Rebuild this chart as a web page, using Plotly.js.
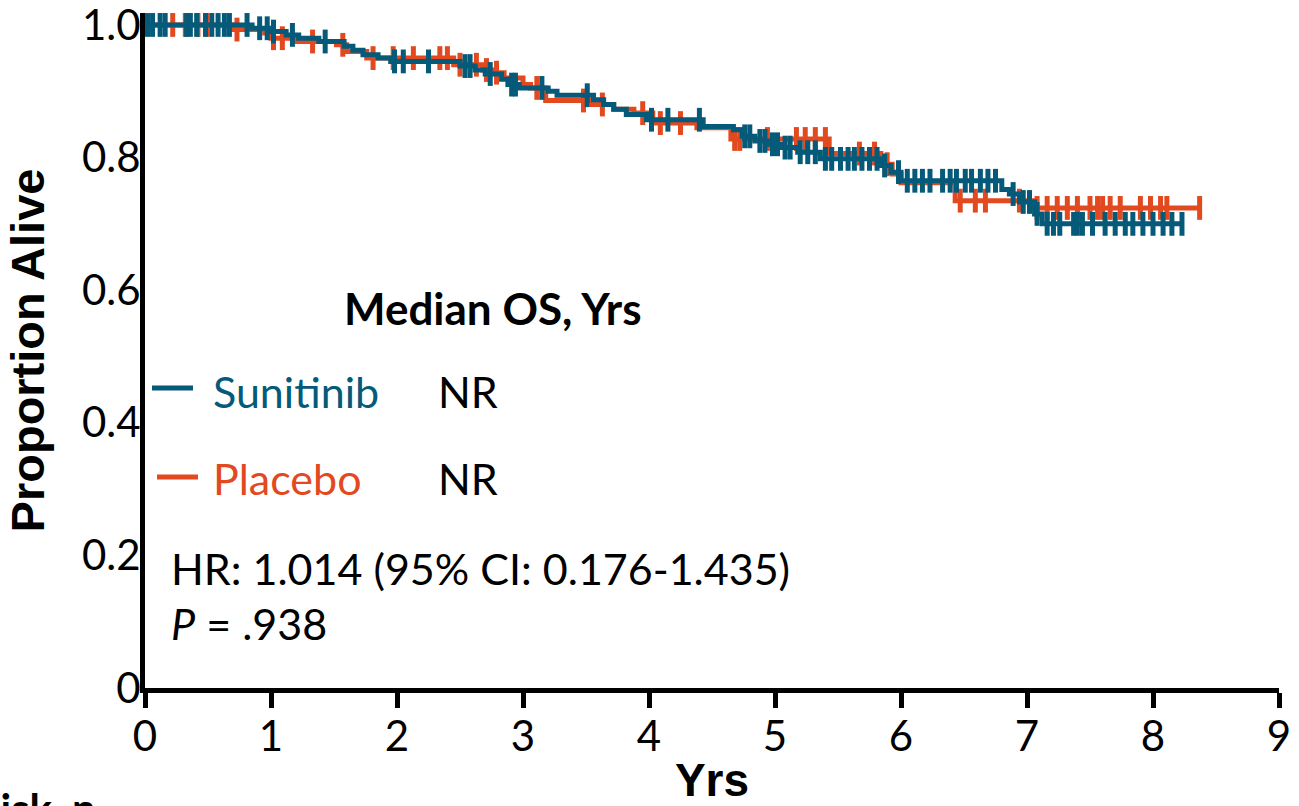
<!DOCTYPE html>
<html>
<head>
<meta charset="utf-8">
<script src="https://cdn.plot.ly/plotly-3.0.1.min.js"></script>
<style>
  html, body { margin: 0; padding: 0; background: #ffffff; }
  #chart { width: 1299px; height: 806px; }
</style>
</head>
<body>
<div id="chart"></div>
<script>
// Kaplan-Meier overall survival, step times (years) and proportion alive
const sunitinibTimes = [0, 0.85, 1.0, 1.12, 1.22, 1.38, 1.58, 1.65, 1.73, 1.85, 1.95, 2.5, 2.62, 2.7, 2.83, 2.88, 2.97, 3.2, 3.27, 3.56, 3.64, 3.72, 3.82, 3.98, 4.43, 4.67, 4.74, 4.84, 4.95, 5.05, 5.18, 5.36, 5.84, 5.92, 6.0, 6.8, 6.86, 6.94, 7.06, 7.12, 8.23];
const sunitinibSurv  = [1.0, 0.995, 0.99, 0.985, 0.98, 0.975, 0.968, 0.962, 0.955, 0.95, 0.945, 0.938, 0.932, 0.926, 0.918, 0.91, 0.905, 0.9, 0.894, 0.887, 0.88, 0.873, 0.865, 0.857, 0.847, 0.842, 0.832, 0.825, 0.82, 0.815, 0.808, 0.798, 0.788, 0.778, 0.765, 0.752, 0.745, 0.733, 0.715, 0.70, 0.70];
const sunitinibCensored = [0.02, 0.06, 0.12, 0.16, 0.33, 0.36, 0.41, 0.48, 0.53, 0.58, 0.63, 0.67, 0.81, 0.91, 0.97, 1.02, 1.17, 1.43, 1.98, 2.05, 2.25, 2.54, 2.58, 2.74, 2.91, 2.94, 3.15, 3.51, 4.02, 4.15, 4.40, 4.76, 4.80, 4.88, 4.92, 4.98, 5.02, 5.08, 5.12, 5.20, 5.26, 5.32, 5.40, 5.45, 5.52, 5.58, 5.63, 5.69, 5.75, 5.81, 5.87, 5.98, 6.05, 6.11, 6.17, 6.23, 6.33, 6.39, 6.44, 6.51, 6.56, 6.63, 6.69, 6.75, 6.89, 6.97, 7.02, 7.08, 7.16, 7.21, 7.26, 7.37, 7.40, 7.44, 7.52, 7.62, 7.70, 7.78, 7.84, 7.92, 8.00, 8.08, 8.15, 8.23];

const placeboTimes = [0, 0.70, 0.95, 1.0, 1.2, 1.52, 1.6, 1.76, 2.45, 2.68, 2.76, 2.85, 3.0, 3.06, 3.18, 3.55, 3.72, 3.88, 4.03, 4.38, 4.65, 5.43, 5.84, 5.93, 6.0, 6.43, 7.05, 8.37];
const placeboSurv  = [1.0, 0.993, 0.988, 0.98, 0.975, 0.97, 0.96, 0.95, 0.94, 0.932, 0.928, 0.92, 0.91, 0.905, 0.886, 0.88, 0.873, 0.867, 0.852, 0.845, 0.828, 0.806, 0.79, 0.775, 0.762, 0.735, 0.724, 0.724];
const placeboCensored = [0.22, 0.32, 0.42, 0.49, 0.73, 1.02, 1.09, 1.33, 1.57, 1.81, 1.97, 2.13, 2.34, 2.40, 2.50, 2.63, 2.71, 2.79, 3.11, 3.48, 3.63, 3.95, 4.09, 4.25, 4.68, 4.72, 4.94, 5.17, 5.24, 5.32, 5.40, 5.67, 5.79, 5.89, 6.47, 6.59, 6.67, 6.94, 7.08, 7.16, 7.24, 7.32, 7.40, 7.50, 7.56, 7.60, 7.66, 7.74, 7.90, 7.98, 8.06, 8.11, 8.37];

const xTickVals = [0, 1, 2, 3, 4, 5, 6, 7, 8, 9];
const yTickVals = [0, 0.2, 0.4, 0.6, 0.8, 1.0];
const yTickText = ["0", "0.2", "0.4", "0.6", "0.8", "1.0"];

const TEAL = "#045a78";
const ORANGE = "#e2491f";

// value of a right-continuous step curve at time t
function stepAt(times, surv, t) {
  let v = surv[0];
  for (let i = 0; i < times.length; i++) {
    if (times[i] <= t) v = surv[i];
  }
  return v;
}

function curve(times, surv, color) {
  return {
    type: "scatter", mode: "lines", x: times, y: surv,
    line: { shape: "hv", color: color, width: 5 },
    hoverinfo: "skip", cliponaxis: false
  };
}
function censorMarks(times, surv, censored, color) {
  return {
    type: "scatter", mode: "markers",
    x: censored, y: censored.map(t => stepAt(times, surv, t)),
    marker: { symbol: "line-ns", size: 17, line: { color: color, width: 5 } },
    hoverinfo: "skip", cliponaxis: false
  };
}

const traces = [
  curve(placeboTimes, placeboSurv, ORANGE),
  censorMarks(placeboTimes, placeboSurv, placeboCensored, ORANGE),
  curve(sunitinibTimes, sunitinibSurv, TEAL),
  censorMarks(sunitinibTimes, sunitinibSurv, sunitinibCensored, TEAL)
];

// pixel -> paper helpers for the text block inside the plot
const L = 145, R = 20, T = 13, B = 118, W = 1299, H = 806;
const pw = W - L - R, ph = H - T - B;
const px = v => (v - L) / pw;
const py = v => (H - B - v) / ph;

const bodyFont = { family: "Lato, 'Open Sans', sans-serif", size: 43, color: "#000" };
const boldFont = Object.assign({}, bodyFont, { size: 44, weight: "bold" });

function note(text, x, y, extra) {
  return Object.assign({
    text: text, xref: "paper", yref: "paper", x: px(x), y: py(y),
    xanchor: "left", yanchor: "middle", showarrow: false,
    font: Object.assign({}, bodyFont)
  }, extra || {});
}

const annotations = [
  note("Median OS, Yrs", 342, 308, { font: boldFont }),
  note("Sunitinib", 211, 391, { font: Object.assign({}, bodyFont, { color: TEAL }) }),
  note("NR", 436, 391),
  note("Placebo", 211, 479, { font: Object.assign({}, bodyFont, { color: ORANGE }) }),
  note("NR", 436, 479),
  note("HR: 1.014 (95% CI: 0.176-1.435)", 169, 568),
  note("<i>P</i> = .938", 169, 623),
  note("At Risk, n", 98, 808, { xanchor: "right", font: Object.assign({}, boldFont, { size: 42 }) })
];

const shapes = [
  { type: "line", xref: "paper", yref: "paper", x0: px(152), x1: px(193), y0: py(388), y1: py(388), line: { color: TEAL, width: 5 } },
  { type: "line", xref: "paper", yref: "paper", x0: px(157), x1: px(198), y0: py(477), y1: py(477), line: { color: ORANGE, width: 5 } }
];

const layout = {
  width: W, height: H,
  margin: { l: L, r: R, t: T, b: B },
  paper_bgcolor: "#fff", plot_bgcolor: "#fff",
  showlegend: false,
  xaxis: {
    range: [0, 9], tickvals: xTickVals,
    showline: true, linecolor: "#000", linewidth: 5,
    ticks: "outside", ticklen: 15, tickwidth: 5, tickcolor: "#000",
    ticklabelstandoff: -7,
    showgrid: false, zeroline: false,
    tickfont: { family: "Lato, sans-serif", size: 42, color: "#000" },
    title: { text: "Yrs", font: { family: "Liberation Sans, Arial, sans-serif", size: 46, color: "#000", weight: "bold" }, standoff: 18 }
  },
  yaxis: {
    range: [0, 1.018], tickvals: yTickVals, ticktext: yTickText,
    showline: true, linecolor: "#000", linewidth: 5,
    ticks: "", ticklabelstandoff: -9, ticklabeloverflow: "allow",
    showgrid: false, zeroline: false,
    tickfont: { family: "Lato, sans-serif", size: 42, color: "#000" },
    title: { text: "Proportion Alive", font: { family: "Liberation Sans, Arial, sans-serif", size: 47, color: "#000", weight: "bold" }, standoff: 24 }
  },
  annotations: annotations,
  shapes: shapes
};

Plotly.newPlot("chart", traces, layout, { displayModeBar: false, staticPlot: true });
</script>
</body>
</html>
